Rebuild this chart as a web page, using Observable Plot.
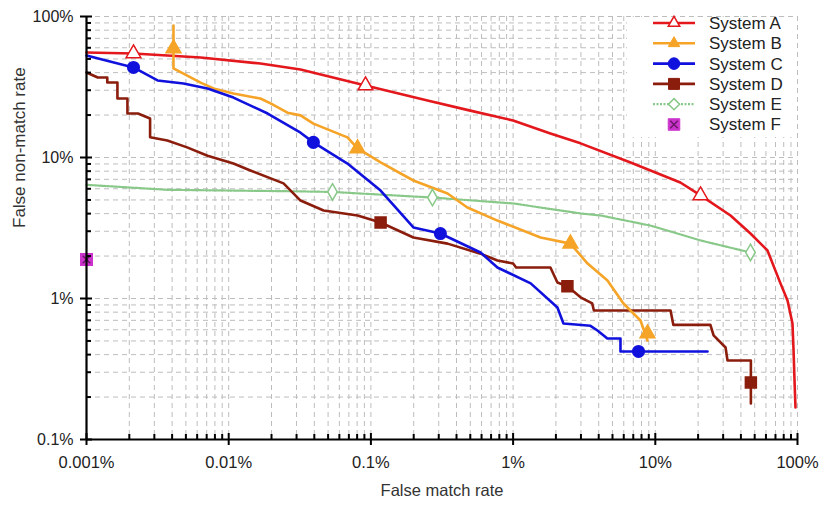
<!DOCTYPE html>
<html><head><meta charset="utf-8">
<script src="https://cdn.jsdelivr.net/npm/d3@7"></script>
<script src="https://cdn.jsdelivr.net/npm/@observablehq/plot@0.6"></script>
<style>
html,body{margin:0;padding:0;background:#fff;}
#chart{width:819px;height:507px;}
</style>
</head><body><div id="chart"></div>
<script>
// ---- Data (values in percent) ----
const systems = ["System A","System B","System C","System D","System E","System F"];
const colors  = ["#e3171c","#f5a427","#1111dd","#8b1d0d","#88c888","#cc33cc"];

const sysA_fmr  = [0.001,0.00214,0.00634,0.0167,0.032,0.0916,0.25,0.50,1.0,1.83,2.98,6.7,15.0,20.8,33.8,46.7,61.5,75.9,85.1,92.2,93.8,95.3,96.8];
const sysA_fnmr = [55.6,54.7,51.2,46.4,42.1,32.4,25.4,21.5,18.3,14.8,12.6,9.22,6.65,5.38,3.88,2.89,2.19,1.28,0.968,0.665,0.428,0.262,0.169];
const sysA_mk_fmr  = [0.00214,0.0916,20.8];
const sysA_mk_fnmr = [54.7,32.4,5.38];

const sysB_fmr  = [0.00409,0.00409,0.00634,0.00782,0.0108,0.0167,0.0197,0.0259,0.032,0.0394,0.0684,0.0806,0.117,0.199,0.346,0.477,0.776,1.56,2.53,3.34,4.61,5.97,7.87,8.81];
const sysB_fnmr = [86.3,42.8,34.0,30.9,28.4,26.2,24.2,20.8,19.9,17.4,13.9,11.6,9.22,6.87,5.56,4.42,3.57,2.71,2.45,1.77,1.34,0.922,0.698,0.504];
const sysB_mk_fmr  = [0.00409,0.0806,2.53,8.81];
const sysB_mk_fnmr = [59.3,11.6,2.45,0.565];

const sysC_fmr  = [0.001,0.00214,0.00316,0.00481,0.0071,0.0108,0.0188,0.032,0.0394,0.0684,0.117,0.199,0.308,0.59,0.776,1.33,2.05,2.26,3.5,3.92,4.6,5.69,5.69,23.3];
const sysC_fnmr = [52.9,43.5,35.2,33.5,30.9,26.6,20.5,15.0,12.8,9.06,5.83,3.19,2.89,2.12,1.66,1.28,0.863,0.665,0.64,0.593,0.52,0.52,0.421,0.421];
const sysC_mk_fmr  = [0.00214,0.0394,0.308,7.62];
const sysC_mk_fnmr = [43.5,12.8,2.89,0.421];

const sysD_fmr  = [0.001,0.0012,0.0014,0.0014,0.00165,0.00165,0.00194,0.00194,0.0023,0.0028,0.0028,0.0037,0.0051,0.0071,0.0108,0.0142,0.0243,0.032,0.0465,0.0806,0.117,0.199,0.346,0.59,0.776,1.0,1.05,1.83,2.05,2.41,2.98,3.6,3.7,12.8,13.4,24.4,25.7,31.2,32.2,47.0,47.0];
const sysD_fnmr = [40.1,36.9,36.9,34.0,34.0,26.2,26.2,20.5,20.5,18.9,13.9,13.2,11.8,10.3,9.06,8.09,6.55,4.95,4.21,3.88,3.46,2.71,2.45,2.08,1.86,1.77,1.66,1.66,1.30,1.22,1.02,0.922,0.822,0.822,0.65,0.65,0.547,0.449,0.363,0.363,0.18];
const sysD_mk_fmr  = [0.117,2.41,47.0];
const sysD_mk_fnmr = [3.46,1.22,0.254];

const sysE_fmr  = [0.001,0.0037,0.032,0.0537,0.271,1.006,2.98,4.12,9.25,20.8,46.7];
const sysE_fnmr = [6.4,5.9,5.75,5.7,5.2,4.72,4.01,3.88,3.29,2.58,2.12];
const sysE_mk_fmr  = [0.0537,0.271,46.7];
const sysE_mk_fnmr = [5.7,5.2,2.12];

const sysF_fmr  = [0.001];
const sysF_fnmr = [1.89];

const xMajor = [0.001,0.01,0.1,1,10,100];
const yMajor = [0.1,1,10,100];
const minorMult = [2,3,4,5,6,7,8,9];
const xLabels = ["0.001%","0.01%","0.1%","1%","10%","100%"];
const yLabels = ["0.1%","1%","10%","100%"];
const xTitle = "False match rate";
const yTitle = "False non-match rate";

// ---- Build tables ----
const rows = (fx, fy) => fx.map((x, i) => ({fmr: x, fnmr: fy[i]}));
const A = rows(sysA_fmr, sysA_fnmr), Am = rows(sysA_mk_fmr, sysA_mk_fnmr);
const B = rows(sysB_fmr, sysB_fnmr), Bm = rows(sysB_mk_fmr, sysB_mk_fnmr);
const C = rows(sysC_fmr, sysC_fnmr), Cm = rows(sysC_mk_fmr, sysC_mk_fnmr);
const D = rows(sysD_fmr, sysD_fnmr), Dm = rows(sysD_mk_fmr, sysD_mk_fnmr);
const E = rows(sysE_fmr, sysE_fnmr), Em = rows(sysE_mk_fmr, sysE_mk_fnmr);
const F = rows(sysF_fmr, sysF_fnmr);

const xMinor = xMajor.slice(0, -1).flatMap(d => minorMult.map(m => d * m));
const yMinor = yMajor.slice(0, -1).flatMap(d => minorMult.map(m => d * m));
const xFmt = d => xLabels[xMajor.indexOf(d)];
const yFmt = d => yLabels[yMajor.indexOf(d)];

const gridStyle = {stroke: "#bdbdbd", strokeDasharray: "5,4", strokeWidth: 1};
const lw = 2.6;
const FONT = "'Liberation Sans', Arial, sans-serif";

const plot = Plot.plot({
  width: 819, height: 507,
  marginLeft: 86, marginRight: 22, marginTop: 16, marginBottom: 68,
  x: {type: "log", domain: [0.001, 100]},
  y: {type: "log", domain: [0.1, 100]},
  style: {fontFamily: FONT, fontSize: "16px", color: "#222", background: "#fff"},
  marks: [
    Plot.ruleX(xMinor.concat(xMajor.slice(1)), gridStyle),
    Plot.ruleY(yMinor.concat(yMajor.slice(1)), gridStyle),
    Plot.line(E, {x: "fmr", y: "fnmr", stroke: colors[4], strokeWidth: 2.2, strokeDasharray: "2,1.5"}),
    Plot.line(A, {x: "fmr", y: "fnmr", stroke: colors[0], strokeWidth: lw}),
    Plot.line(D, {x: "fmr", y: "fnmr", stroke: colors[3], strokeWidth: lw}),
    Plot.line(B, {x: "fmr", y: "fnmr", stroke: colors[1], strokeWidth: lw}),
    Plot.line(C, {x: "fmr", y: "fnmr", stroke: colors[2], strokeWidth: lw}),
    Plot.dot(Am, {x: "fmr", y: "fnmr", symbol: "triangle", r: 5.5, fill: "white", stroke: colors[0], strokeWidth: 1.5}),
    Plot.dot(Bm, {x: "fmr", y: "fnmr", symbol: "triangle", r: 5.5, fill: colors[1], stroke: colors[1]}),
    Plot.dot(Cm, {x: "fmr", y: "fnmr", symbol: "circle", r: 5.8, fill: colors[2], stroke: colors[2]}),
    Plot.dot(Dm, {x: "fmr", y: "fnmr", symbol: "square", r: 6.2, fill: colors[3], stroke: colors[3]}),
    Plot.dot(Em, {x: "fmr", y: "fnmr", symbol: "diamond", r: 5, fill: "white", stroke: colors[4], strokeWidth: 1.5}),
    Plot.dot(F, {x: "fmr", y: "fnmr", symbol: "square", r: 6.5, fill: colors[5], stroke: colors[5]}),
    Plot.dot(F, {x: "fmr", y: "fnmr", symbol: "times", r: 3.5, stroke: "#6a186a", strokeWidth: 1.5}),
    Plot.ruleX([0.001], {stroke: "#000", strokeWidth: 2.2}),
    Plot.ruleY([0.1], {stroke: "#000", strokeWidth: 2.2}),
    Plot.ruleX(xMajor, {y1: 0.1, y2: 0.1, insetTop: -6, insetBottom: -6, stroke: "#000", strokeWidth: 2}),
    Plot.ruleX(xMinor, {y1: 0.1, y2: 0.1, insetTop: -5, stroke: "#000", strokeWidth: 2}),
    Plot.ruleY(yMajor, {x1: 0.001, x2: 0.001, insetLeft: -6, insetRight: -6, stroke: "#000", strokeWidth: 2}),
    Plot.ruleY(yMinor, {x1: 0.001, x2: 0.001, insetRight: -5, stroke: "#000", strokeWidth: 2}),
    Plot.axisX(xMajor, {tickSize: 0, tickPadding: 17, tickFormat: xFmt, label: null, fontSize: 16.5, fill: "#222"}),
    Plot.axisY(yMajor, {tickSize: 0, tickPadding: 13, tickFormat: yFmt, label: null, fontSize: 16, fill: "#222"}),
    Plot.text([xTitle], {frameAnchor: "bottom", dy: 56, fontSize: 16.5, fill: "#333"}),
    Plot.text([yTitle], {frameAnchor: "left", dx: -67, rotate: -90, fontSize: 17, fill: "#333"})
  ]
});

// ---- Legend (line + marker swatches) ----
const svg = d3.select(plot);
const lg = svg.append("g").attr("font-family", FONT).attr("font-size", 17).attr("text-anchor", "start");
lg.append("rect").attr("x", 627).attr("y", 17).attr("width", 169).attr("height", 120).attr("fill", "white");
const symDefs = [
  {s: d3.symbolTriangle2, r: 5.5, fill: "white", sw: 1.5},
  {s: d3.symbolTriangle2, r: 5.5, fill: colors[1], sw: 1},
  {s: d3.symbolCircle, r: 5.8, fill: colors[2], sw: 1},
  {s: d3.symbolSquare, r: 6.2, fill: colors[3], sw: 1},
  {s: d3.symbolDiamond2, r: 5, fill: "white", sw: 1.5},
  {s: d3.symbolSquare, r: 6.5, fill: colors[5], sw: 1}
];
systems.forEach((name, i) => {
  const yy = 23 + i * 20.3;
  const g = lg.append("g");
  if (i < 5) {
    g.append("line").attr("x1", 653).attr("x2", 695).attr("y1", yy).attr("y2", yy)
      .attr("stroke", colors[i]).attr("stroke-width", i === 4 ? 2.2 : lw)
      .attr("stroke-dasharray", i === 4 ? "2,1.5" : null);
  }
  const sd = symDefs[i];
  g.append("path").attr("transform", `translate(674,${yy})`)
    .attr("d", d3.symbol(sd.s, sd.r * sd.r * Math.PI)())
    .attr("fill", sd.fill).attr("stroke", colors[i]).attr("stroke-width", sd.sw);
  if (i === 5) {
    g.append("path").attr("transform", `translate(674,${yy})`)
      .attr("d", d3.symbol(d3.symbolTimes, 3.5 * 3.5 * Math.PI)())
      .attr("fill", "none").attr("stroke", "#6a186a").attr("stroke-width", 1.5);
  }
  g.append("text").attr("x", 709).attr("y", yy).attr("dy", "0.35em").attr("fill", "#222").text(name);
});

document.getElementById("chart").appendChild(plot);
</script>
</body></html>
